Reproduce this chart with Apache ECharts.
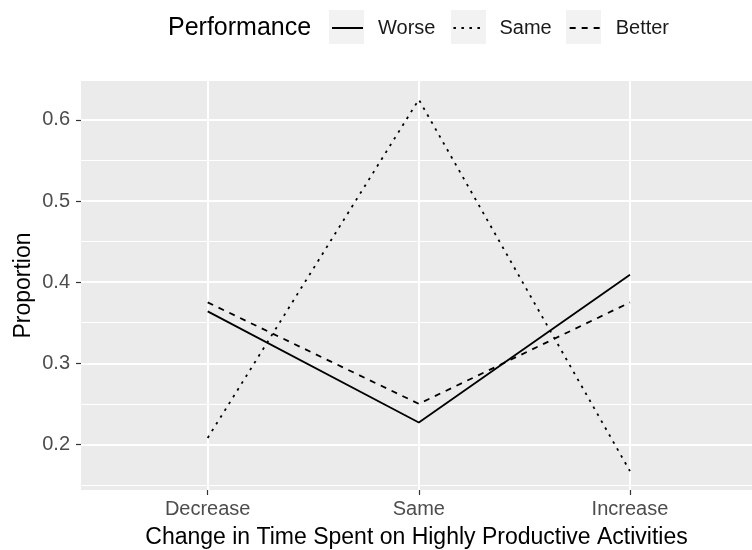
<!DOCTYPE html>
<html>
<head>
<meta charset="utf-8">
<script src="https://cdn.jsdelivr.net/npm/echarts@6/dist/echarts.min.js"></script>
<style>html,body{margin:0;padding:0;background:#fff}#c{width:752px;height:550px}</style>
</head>
<body>
<div id="c"></div>
<script>
var categories = ['Decrease', 'Same', 'Increase'];
var seriesNames = ['Worse', 'Same', 'Better'];
var worse = [0.364, 0.227, 0.409];
var same = [0.208, 0.625, 0.167];
var better = [0.375, 0.25, 0.375];
var yTicks = [0.2, 0.3, 0.4, 0.5, 0.6];
var yMinorTicks = [0.15, 0.25, 0.35, 0.45, 0.55, 0.65];
var xTicks = [0, 1, 2];

var FONT = 'Liberation Sans';
function pairs(arr) { return arr.map(function (v, i) { return [i, v]; }); }

var chart = echarts.init(document.getElementById('c'), null, {renderer: 'canvas'});
var lineTypes = ['solid', [2.5, 5.5], [6, 6]];
var values = [worse, same, better];

var option = {
  animation: false,
  backgroundColor: '#ffffff',
  title: {
    text: 'Performance',
    left: 168, top: 16, padding: 0,
    textStyle: {fontFamily: FONT, fontSize: 25, fontWeight: 'normal', color: '#000'}
  },
  graphic: [
    {type: 'rect', shape: {x: 329, y: 10, width: 35, height: 34}, style: {fill: '#f2f2f2'}, z: -1},
    {type: 'rect', shape: {x: 451, y: 10, width: 35, height: 34}, style: {fill: '#f2f2f2'}, z: -1},
    {type: 'rect', shape: {x: 566, y: 10, width: 35, height: 34}, style: {fill: '#f2f2f2'}, z: -1}
  ],
  legend: {
    data: seriesNames,
    left: 331, top: 18,
    itemWidth: 31, itemHeight: 14, itemGap: 17,
    padding: 0,
    itemStyle: {opacity: 0},
    textStyle: {fontFamily: FONT, fontSize: 20, color: '#1a1a1a', padding: [0, 0, 0, 10]}
  },
  grid: {
    left: 81, top: 81, right: 0, bottom: 60,
    show: true, backgroundColor: '#ebebeb', borderWidth: 0,
    containLabel: false,
    outerBoundsMode: 'none'
  },
  xAxis: {
    type: 'value',
    min: -0.6, max: 2.578,
    name: 'Change in Time Spent on Highly Productive Activities',
    nameLocation: 'middle', nameGap: 36,
    nameMoveOverlap: false,
    nameTextStyle: {fontFamily: FONT, fontSize: 23, color: '#000'},
    axisLine: {show: false, onZero: false},
    axisTick: {show: true, length: 5, customValues: xTicks, lineStyle: {color: '#333', width: 1.2}},
    axisLabel: {
      customValues: xTicks, margin: 9,
      fontFamily: FONT, fontSize: 20, color: '#4d4d4d',
      formatter: function (v) { return categories[Math.round(v)]; }
    },
    splitLine: {show: true, lineStyle: {color: '#ffffff', width: 2}}
  },
  yAxis: [
    {
      type: 'value',
      min: 0.1438, max: 0.6479,
      name: 'Proportion',
      nameLocation: 'middle', nameGap: 46,
      nameMoveOverlap: false,
      nameTextStyle: {fontFamily: FONT, fontSize: 23, color: '#000'},
      axisLine: {show: false, onZero: false},
      axisTick: {show: true, length: 5, customValues: yTicks, lineStyle: {color: '#333', width: 1.2}},
      axisLabel: {
        customValues: yTicks, margin: 11,
        fontFamily: FONT, fontSize: 20, color: '#4d4d4d',
        formatter: function (v) { return v.toFixed(1); }
      },
      splitLine: {show: true, lineStyle: {color: '#ffffff', width: 2}}
    },
    {
      type: 'value',
      min: 0.1438, max: 0.6479,
      position: 'left',
      axisLine: {show: false, onZero: false},
      axisTick: {show: false, customValues: yMinorTicks},
      axisLabel: {show: false, customValues: yMinorTicks},
      splitLine: {show: true, lineStyle: {color: '#ffffff', width: 1}}
    }
  ],
  series: seriesNames.map(function (name, k) {
    return {
      name: name,
      type: 'line',
      yAxisIndex: 0,
      data: pairs(values[k]),
      symbol: 'none',
      lineStyle: {color: '#000', width: 1.8, type: lineTypes[k]},
      itemStyle: {color: '#000'},
      z: 5
    };
  })
};
chart.setOption(option);
</script>
</body>
</html>
